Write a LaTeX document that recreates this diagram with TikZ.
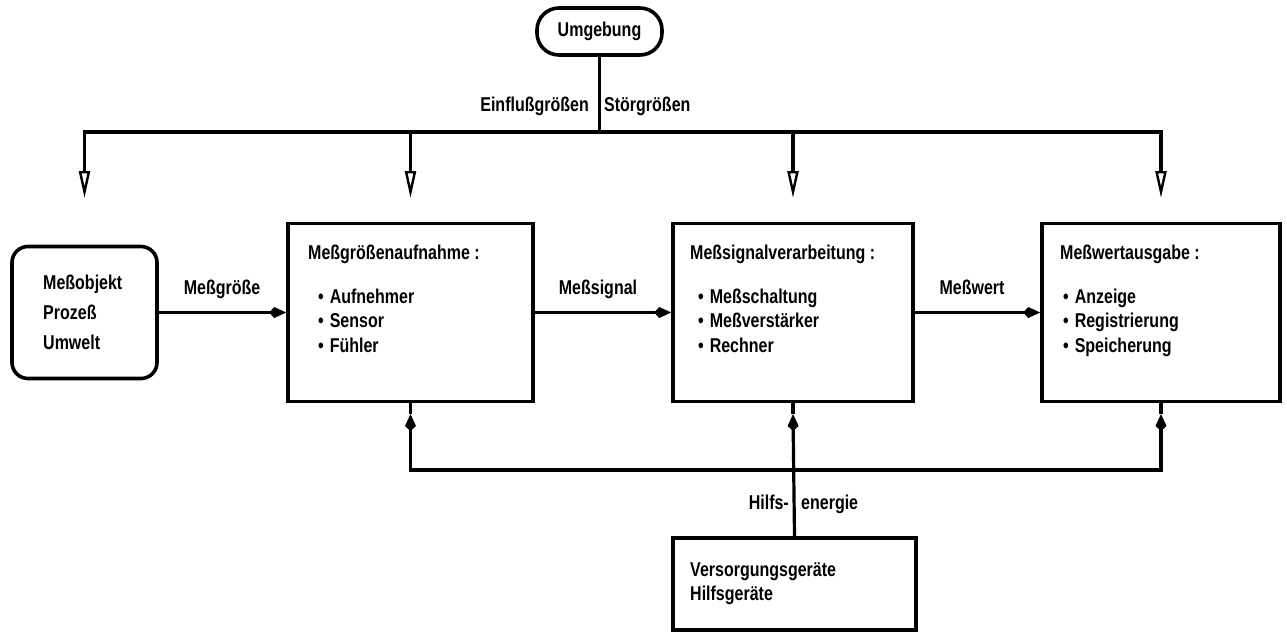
\documentclass[tikz,border=0pt]{standalone}
\usepackage{fontspec}
\newfontfamily\dinfont{Liberation Sans}[FakeStretch=0.8]
\usetikzlibrary{arrows.meta}
\begin{document}
\begin{tikzpicture}[x=1pt,y=-1pt,
  every node/.style={font=\dinfont\bfseries\fontsize{20}{24.5}\selectfont, inner sep=0pt},
  ln/.style={line width=3.2pt},
  boxs/.style={draw, line width=3.6pt},
  opentip/.style={ln, -{Triangle[open, length=27pt, width=11pt, line width=2.4pt]}},
  kitetip/.style={ln, -{Kite[length=17pt, width=11pt, inset=5pt]}}]
\useasboundingbox (0,0) rectangle (1287,632);

% boxes
\node[boxs, rounded corners=22pt, minimum width=125pt, minimum height=47pt] (umg) at (599.5,31.5) {Umgebung};
\node[boxs, rounded corners=16pt, minimum width=145pt, minimum height=132pt] (obj) at (84.5,312.5) {};
\node[boxs, minimum width=245pt, minimum height=178pt] (aufn) at (410.5,312.5) {};
\node[boxs, minimum width=240pt, minimum height=178pt] (verarb) at (793,312.5) {};
\node[boxs, minimum width=238pt, minimum height=178pt] (ausg) at (1161,312.5) {};
\node[boxs, minimum width=243pt, minimum height=92pt] (vers) at (794.5,584) {};

% box texts
\node[anchor=west, align=left, font=\dinfont\bfseries\fontsize{20}{30}\selectfont] (objt) at (43,312.5) {Meßobjekt\\Prozeß\\Umwelt};
\node[anchor=north west, align=left] (aufnt) at (308,245)
  {Meßgrößenaufnahme :\\[19pt]\hspace*{10pt}•\hspace{6pt}Aufnehmer\\\hspace*{10pt}•\hspace{6pt}Sensor\\\hspace*{10pt}•\hspace{6pt}Fühler};
\node[anchor=north west, align=left] (verarbt) at (690,245)
  {Meßsignalverarbeitung :\\[19pt]\hspace*{8pt}•\hspace{6pt}Meßschaltung\\\hspace*{8pt}•\hspace{6pt}Meßverstärker\\\hspace*{8pt}•\hspace{6pt}Rechner};
\node[anchor=north west, align=left] (ausgt) at (1060,245)
  {Meßwertausgabe :\\[19pt]\hspace*{3pt}•\hspace{6pt}Anzeige\\\hspace*{3pt}•\hspace{6pt}Registrierung\\\hspace*{3pt}•\hspace{6pt}Speicherung};
\node[anchor=north west, align=left] (verst) at (690,562) {Versorgungsgeräte\\Hilfsgeräte};

% top distribution
\coordinate (bT) at (umg.south |- 0,132);
\coordinate (b1) at (obj.north |- 0,132);
\coordinate (b2) at (aufn.north |- 0,132);
\coordinate (b3) at (verarb.north |- 0,132);
\coordinate (b4) at (ausg.north |- 0,132);
\coordinate (t1) at (obj.north |- 0,198);
\coordinate (t2) at (aufn.north |- 0,198);
\coordinate (t3) at (verarb.north |- 0,198);
\coordinate (t4) at (ausg.north |- 0,198);
\draw[ln] (umg.south) -- (bT);
\draw[opentip] (bT) -- (b1) -- (t1);
\draw[opentip] (bT) -- (b4) -- (t4);
\draw[opentip] (b2) -- (t2);
\draw[opentip] (b3) -- (t3);
\node[anchor=base east] (einfl) at (589,111) {Einflußgrößen};
\node[anchor=base west] (stoer) at (604,111) {Störgrößen};

% signal chain
\draw[kitetip] (obj.east) -- (aufn.west);
\draw[kitetip] (aufn.east) -- (verarb.west);
\draw[kitetip] (verarb.east) -- (ausg.west);
\node[anchor=base] (l1) at (222,294) {Meßgröße};
\node[anchor=base] (l2) at (598,294) {Meßsignal};
\node[anchor=base] (l3) at (972,294) {Meßwert};

% auxiliary energy
\coordinate (v2) at (aufn.south |- 0,470);
\coordinate (v3) at (verarb.south |- 0,470);
\coordinate (v4) at (ausg.south |- 0,470);
\coordinate (u2) at (aufn.south |- 0,414);
\coordinate (u3) at (verarb.south |- 0,414);
\coordinate (u4) at (ausg.south |- 0,414);
\draw[kitetip] (v3) -- (v2) -- (u2);
\draw[kitetip] (v3) -- (v4) -- (u4);
\draw[kitetip] (vers.north) -- (u3);
\draw[ln] (u2) -- (aufn.south);
\draw[ln] (u3) -- (verarb.south);
\draw[ln] (u4) -- (ausg.south);
\node[anchor=base east] (hilfs) at (789,509) {Hilfs-};
\node[anchor=base west] (energ) at (801,509) {energie};
\end{tikzpicture}
\end{document}
